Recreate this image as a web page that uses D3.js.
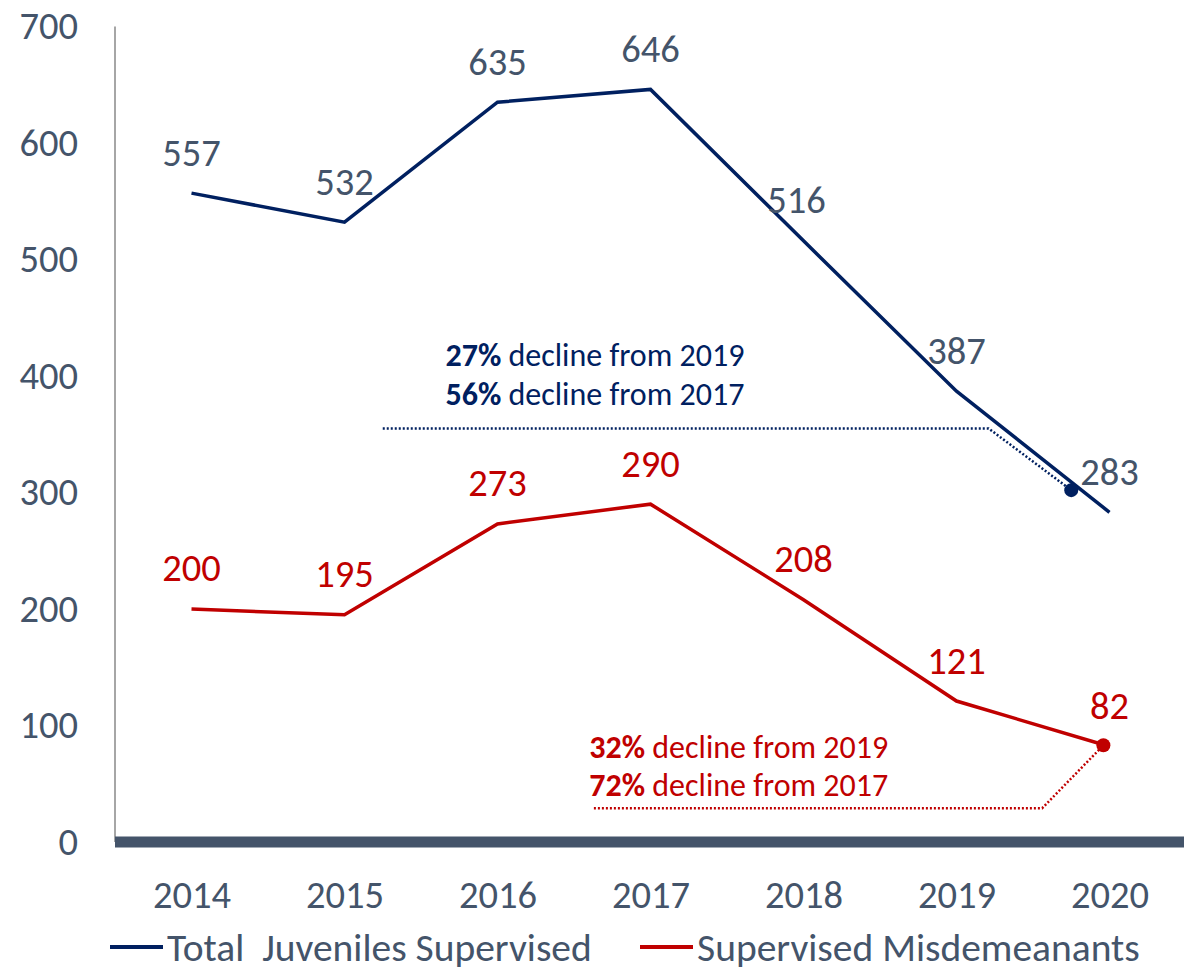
<!DOCTYPE html>
<html>
  <head>
    <script src="https://d3js.org/d3.v7.min.js"></script>
    <style>
      body { margin: 0; background: #fff; }
      text { font-family: Carlito, Calibri, Lato, sans-serif; }
    </style>
  </head>
  <body>
    <svg width="1184" height="971"></svg>

    <script type="text/javascript">
      var years = ["2014", "2015", "2016", "2017", "2018", "2019", "2020"];
      var totalSupervised = [557, 532, 635, 646, 516, 387, 283];
      var misdemeanants = [200, 195, 273, 290, 208, 121, 82];
      var yTicks = [0, 100, 200, 300, 400, 500, 600, 700];
      var seriesNames = ["Total  Juveniles Supervised", "Supervised Misdemeanants"];

      // callout text: [bold part, rest]
      var blueNotes = [["27%", " decline from 2019"], ["56%", " decline from 2017"]];
      var redNotes = [["32%", " decline from 2019"], ["72%", " decline from 2017"]];
      // connector paths, x in category units (0..7), y in data units
      var blueConnector = [[1.75, 355], [5.71, 355], [6.25, 302]];
      var redConnector = [[3.13, 29], [6.06, 29], [6.46, 83]];

      var navy = "#002060";
      var red = "#c00000";
      var slate = "#44546a";
      var fontSize = 38.5;

      var svg = d3.select("svg");

      var x = d3.scalePoint().domain(years).range([115, 1186]).padding(0.5);
      var xCat = d3.scaleLinear().domain([0, 7]).range([115, 1186]);
      var y = d3.scaleLinear().domain([0, 700]).range([842, 26.5]);

      // y axis line
      svg
        .append("line")
        .attr("x1", 115)
        .attr("x2", 115)
        .attr("y1", y(700))
        .attr("y2", y(0))
        .style("stroke", "#a6a6a6")
        .style("stroke-width", 2);

      var yAxis = d3.axisLeft(y).tickValues(yTicks).tickSize(0).tickPadding(0);
      var gy = svg
        .append("g")
        .attr("transform", "translate(78, 0)")
        .call(yAxis);
      gy.select(".domain").remove();
      gy.selectAll("text")
        .style("font-size", fontSize + "px")
        .style("fill", slate);

      // thick base bar
      svg
        .append("line")
        .attr("x1", 115)
        .attr("x2", 1184)
        .attr("y1", y(0))
        .attr("y2", y(0))
        .style("stroke", slate)
        .style("stroke-width", 11);

      var xAxis = d3.axisBottom(x).tickSize(0).tickPadding(0);
      var gx = svg
        .append("g")
        .attr("transform", "translate(0, 895)")
        .call(xAxis);
      gx.select(".domain").remove();
      gx.selectAll("text")
        .attr("dy", "0.35em")
        .style("font-size", fontSize + "px")
        .style("fill", slate);
      svg.selectAll("g").attr("font-family", null);

      var line = d3
        .line()
        .x(function (d, i) { return x(years[i]); })
        .y(function (d) { return y(d); });

      var connector = d3
        .line()
        .x(function (d) { return xCat(d[0]); })
        .y(function (d) { return y(d[1]); });

      // connectors under the lines
      svg
        .append("path")
        .attr("d", connector(blueConnector))
        .style("fill", "none")
        .style("stroke", navy)
        .style("stroke-width", 2.5)
        .style("stroke-dasharray", "2 2");
      svg
        .append("path")
        .attr("d", connector(redConnector))
        .style("fill", "none")
        .style("stroke", red)
        .style("stroke-width", 2.5)
        .style("stroke-dasharray", "2 2");

      svg
        .append("path")
        .attr("d", line(totalSupervised))
        .style("fill", "none")
        .style("stroke", navy)
        .style("stroke-width", 3.5);
      svg
        .append("path")
        .attr("d", line(misdemeanants))
        .style("fill", "none")
        .style("stroke", red)
        .style("stroke-width", 3.5);

      svg
        .append("circle")
        .attr("cx", xCat(blueConnector[2][0]))
        .attr("cy", y(blueConnector[2][1]))
        .attr("r", 7)
        .style("fill", navy);
      svg
        .append("circle")
        .attr("cx", xCat(redConnector[2][0]))
        .attr("cy", y(redConnector[2][1]))
        .attr("r", 7)
        .style("fill", red);

      // data labels
      function labels(values, color) {
        svg
          .append("g")
          .selectAll("text")
          .data(values)
          .enter()
          .append("text")
          .attr("x", function (d, i) { return x(years[i]) + (i == 4 && color == slate ? -7 : 0); })
          .attr("y", function (d) { return y(d) - 41; })
          .attr("dy", "0.35em")
          .attr("text-anchor", "middle")
          .style("font-size", fontSize + "px")
          .style("fill", color)
          .text(function (d) { return d; });
      }
      labels(totalSupervised, slate);
      labels(misdemeanants, red);

      // callout text
      function notes(rows, color, xPos, yVals) {
        var t = svg
          .append("g")
          .selectAll("text")
          .data(rows)
          .enter()
          .append("text")
          .attr("x", xCat(xPos))
          .attr("y", function (d, i) { return y(yVals[i]); })
          .attr("dy", "0.35em")
          .style("font-size", "32px")
          .style("fill", color);
        t.append("tspan").style("font-weight", "bold").text(function (d) { return d[0]; });
        t.append("tspan").text(function (d) { return d[1]; });
      }
      notes(blueNotes, navy, 2.16, [418, 385]);
      notes(redNotes, red, 3.1, [81.5, 49]);

      // legend
      var legend = svg.append("g").attr("transform", "translate(0, 947)");
      var legendItems = [
        { name: seriesNames[0], color: navy, x: 110 },
        { name: seriesNames[1], color: red, x: 640 }
      ];
      legendItems.forEach(function (d) {
        legend
          .append("line")
          .attr("x1", d.x)
          .attr("x2", d.x + 53)
          .attr("y1", 0)
          .attr("y2", 0)
          .style("stroke", d.color)
          .style("stroke-width", 4);
        legend
          .append("text")
          .attr("x", d.x + 57)
          .attr("y", 0)
          .attr("dy", "0.35em")
          .style("font-size", "39.5px")
          .style("fill", slate)
          .style("white-space", "pre")
          .text(d.name);
      });
    </script>
  </body>
</html>
